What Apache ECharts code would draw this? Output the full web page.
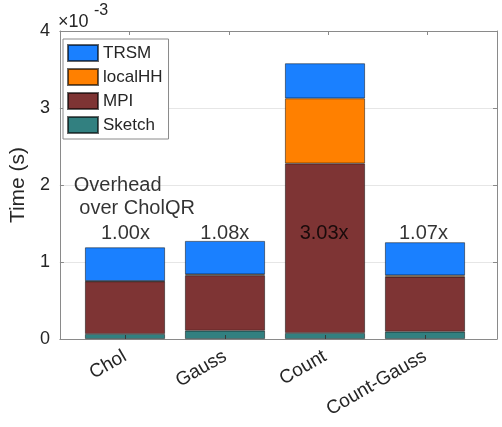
<!DOCTYPE html>
<html><head><meta charset="utf-8">
<script src="https://cdn.jsdelivr.net/npm/echarts@6/dist/echarts.min.js"></script>
<style>html,body{margin:0;padding:0;background:#fff}#c{width:502px;height:427px}</style>
</head><body><div id="c"></div>
<script>
const categories = ['Chol', 'Gauss', 'Count', 'Count-Gauss'];
const sketch  = [0.065, 0.108, 0.078, 0.095];
const mpi     = [0.684, 0.719, 2.202, 0.714];
const localHH = [0.004, 0.013, 0.845, 0.018];
const trsm    = [0.437, 0.433, 0.455, 0.429];
const overheadLabels = ['1.00x', '1.08x', '3.03x', '1.07x'];
const overheadTitle = 'Overhead\n over CholQR';
const legendOrder = ['TRSM', 'localHH', 'MPI', 'Sketch'];

const FONT = 'Liberation Sans, Arial, Helvetica, sans-serif';
const AXIS = '#8a8a8a';
const TXT = '#262626';
const xs = categories.map((c, i) => i + 1);

function barSeries(name, vals, color) {
  return {
    name: name, type: 'bar', stack: 'total', barWidth: 80,
    xAxisIndex: 2, yAxisIndex: 2,
    data: vals,
    itemStyle: { color: color, borderColor: 'rgba(0,0,0,0.6)', borderWidth: 0.8 },
    emphasis: { disabled: true }
  };
}

const chart = echarts.init(document.getElementById('c'), null, { renderer: 'canvas' });
chart.setOption({
  animation: false,
  textStyle: { fontFamily: FONT },
  grid: [
    { left: 55, right: 5, top: 31, bottom: 88, containLabel: false },
    { left: 75, right: 27, top: 31, bottom: 88, containLabel: false }
  ],
  legend: {
    data: legendOrder, orient: 'vertical', left: 63, top: 39,
    padding: [5, 6, 5, 4], itemGap: 6, itemWidth: 30, itemHeight: 16,
    borderColor: AXIS, borderWidth: 1, backgroundColor: '#fff',
    icon: 'rect',
    textStyle: { fontSize: 17, color: TXT, fontFamily: FONT, lineHeight: 16 }
  },
  xAxis: [{
    gridIndex: 0, type: 'value', min: 0.3, max: 4.7, position: 'bottom',
    axisLine: { show: true, onZero: false, lineStyle: { color: AXIS, width: 1 } },
    axisTick: { show: false },
    axisLabel: { show: false },
    splitLine: { show: false }
  }, {
    gridIndex: 0, type: 'value', min: 0.3, max: 4.7, position: 'top',
    axisLine: { show: true, onZero: false, lineStyle: { color: AXIS, width: 1 } },
    axisTick: { show: true, inside: true, length: 4, customValues: xs, lineStyle: { color: AXIS } },
    axisLabel: { show: false },
    splitLine: { show: false }
  }, {
    gridIndex: 1, type: 'category', data: categories, position: 'bottom', z: 5,
    axisLine: { show: false },
    axisTick: { show: true, inside: true, length: 4, alignWithLabel: true, lineStyle: { color: '#3a3a3a' } },
    axisLabel: { rotate: 30, fontSize: 19, color: TXT, margin: 16, fontFamily: FONT },
    splitLine: { show: false }
  }],
  yAxis: [{
    gridIndex: 0, type: 'value', min: 0, max: 4, interval: 1, position: 'left',
    name: 'Time (s)', nameLocation: 'middle', nameGap: 27,
    nameTextStyle: { fontSize: 21, color: TXT, fontFamily: FONT },
    axisLine: { show: true, onZero: false, lineStyle: { color: AXIS, width: 1 } },
    axisTick: { show: true, inside: true, length: 4, lineStyle: { color: AXIS } },
    axisLabel: { fontSize: 18, color: TXT, margin: 10, fontFamily: FONT },
    splitLine: { show: true, lineStyle: { color: '#e6e6e6', width: 1 } }
  }, {
    gridIndex: 0, type: 'value', min: 0, max: 4, interval: 1, position: 'right',
    axisLine: { show: true, onZero: false, lineStyle: { color: AXIS, width: 1 } },
    axisTick: { show: true, inside: true, length: 4, lineStyle: { color: AXIS } },
    axisLabel: { show: false },
    splitLine: { show: false }
  }, {
    gridIndex: 1, type: 'value', min: 0, max: 4, interval: 1,
    axisLine: { show: false }, axisTick: { show: false }, axisLabel: { show: false },
    splitLine: { show: false }
  }],
  graphic: [
    { type: 'text', left: 58, top: 13, style: { text: '×10', fill: TXT, font: '18px ' + FONT } },
    { type: 'text', left: 94, top: 3, style: { text: '-3', fill: TXT, font: '16px ' + FONT } }
  ],
  series: [
    barSeries('Sketch', sketch, '#328080'),
    barSeries('MPI', mpi, '#7e3434'),
    barSeries('localHH', localHH, '#ff8000'),
    barSeries('TRSM', trsm, '#1a80ff'),
    {
      name: 'ratios', type: 'scatter', symbolSize: 0, silent: true, z: 10,
      xAxisIndex: 0, yAxisIndex: 0,
      data: xs.map(x => [x, 1.37]),
      label: { show: true, position: 'inside', offset: [-4, 0], fontSize: 20, color: '#000', fontFamily: FONT,
        formatter: p => overheadLabels[p.dataIndex] }
    },
    {
      name: 'title', type: 'scatter', symbolSize: 0, silent: true, z: 10,
      xAxisIndex: 0, yAxisIndex: 0,
      data: [[0.49, 1.85]],
      label: { show: true, position: [0, 0], offset: [-5, 0], align: 'left', verticalAlign: 'middle',
        fontSize: 20, lineHeight: 23, color: '#000', fontFamily: FONT,
        formatter: () => overheadTitle }
    }
  ]
});
</script></body></html>
